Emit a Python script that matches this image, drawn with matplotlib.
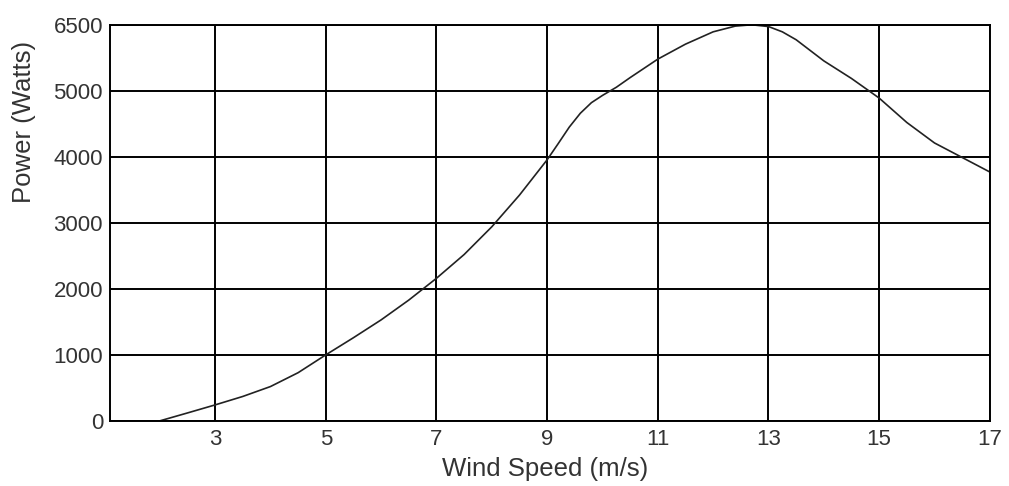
import numpy as np
from matplotlib import pyplot as plt

plt.rcParams['font.family'] = ['Liberation Sans', 'DejaVu Sans']

# values
wind = [2.0, 2.5, 3.0, 3.5, 4.0, 4.5, 5.0, 5.5, 6.0, 6.5, 7.0, 7.5, 8.0, 8.5,
        9.0, 9.2, 9.4, 9.6, 9.8, 10.0, 10.25, 10.5, 11.0, 11.5, 12.0, 12.4,
        12.7, 13.0, 13.25, 13.5, 14.0, 14.5, 15.0, 15.5, 16.0, 16.5, 17.0]
power = [0, 120, 242, 370, 520, 730, 1000, 1260, 1530, 1830, 2160, 2520,
         2940, 3420, 3955, 4200, 4450, 4660, 4820, 4930, 5080, 5300, 5720,
         6060, 6340, 6470, 6500, 6460, 6340, 6160, 5680, 5280, 4890, 4520,
         4210, 3990, 3770]

yticks = [0, 1000, 2000, 3000, 4000, 5000, 6500]
xticks = [3, 5, 7, 9, 11, 13, 15, 17]


# the picture squeezes 5000..6500 into one grid row
def fwd(y):
    y = np.asarray(y, dtype=float)
    return np.where(y <= 5000, y, 5000 + (y - 5000) / 1.5)


def inv(y):
    y = np.asarray(y, dtype=float)
    return np.where(y <= 5000, y, 5000 + (y - 5000) * 1.5)


fig = plt.figure(figsize=(10.09, 4.86), dpi=100)
ax = fig.add_axes([0.109, 0.134, 0.872, 0.815])
ax.set_yscale('function', functions=(fwd, inv))

ax.plot(wind, power, color='#222222', linewidth=1.2)

ax.set_xlim(1.1, 17)
ax.set_ylim(0, 6500)
ax.set_xticks(xticks)
ax.set_yticks(yticks)
ax.set_yticklabels([str(t) for t in yticks])
ax.minorticks_off()
ax.tick_params(length=0, labelsize=16, labelcolor='#333333')
ax.tick_params(axis='y', pad=5)
ax.tick_params(axis='x', pad=6)
ax.grid(True, color='black', linewidth=1.4)
for s in ax.spines.values():
    s.set_linewidth(1.4)
    s.set_color('black')

ax.set_xlabel('Wind Speed (m/s)', fontsize=18.5, color='#333333')
ax.set_ylabel('Power (Watts)', fontsize=18.5, color='#333333')
ax.xaxis.set_label_coords(0.494, -0.09)
ax.yaxis.set_label_coords(-0.084, 0.755)

plt.savefig('out.png', dpi=100)
